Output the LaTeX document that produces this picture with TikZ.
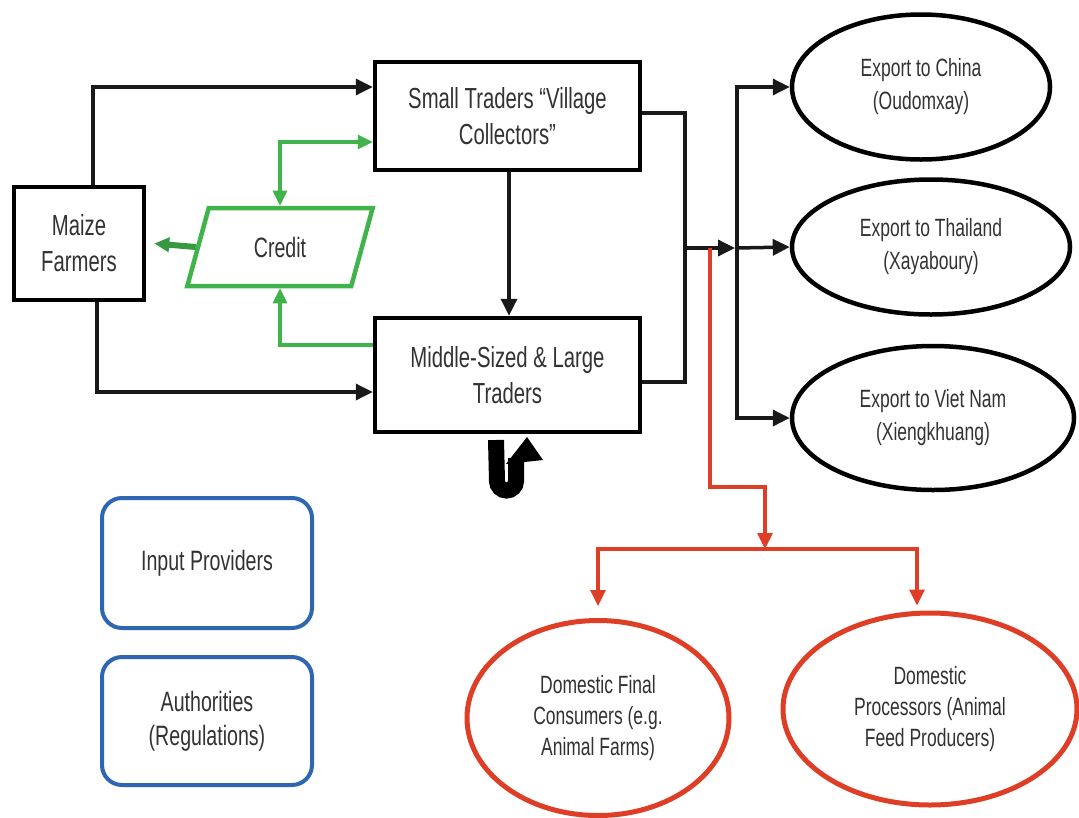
\documentclass[tikz,border=0pt]{standalone}
\usepackage{fontspec}
\setmainfont[FakeStretch=0.7]{Liberation Sans}
\usetikzlibrary{arrows.meta,shapes.geometric,calc}
\definecolor{txt}{RGB}{50,50,50}
\definecolor{grn}{RGB}{64,180,74}
\definecolor{redc}{RGB}{222,62,38}
\definecolor{blu}{RGB}{46,102,178}
\tikzset{
  box/.style={draw=black,line width=4.5pt,minimum width=#1,text=txt,align=center,font=\fontsize{29}{36}\selectfont,inner sep=2pt},
  oval/.style={ellipse,draw=black,line width=4.5pt,text=txt,align=center,font=\fontsize{25}{33}\selectfont,inner sep=0pt},
  redoval/.style={ellipse,draw=redc,line width=5pt,text=txt,align=center,font=\fontsize{25}{31}\selectfont,inner sep=0pt},
  bluebox/.style={draw=blu,line width=4pt,rounded corners=20pt,minimum width=210pt,text=txt,align=center,font=\fontsize{28}{34}\selectfont},
  arr/.style={line width=3.5pt,draw=black!90,-{Triangle[length=17pt,width=16pt]}},
  garr/.style={line width=3.2pt,draw=grn,-{Triangle[length=15pt,width=14pt]}},
  rarr/.style={line width=3.2pt,draw=redc,-{Triangle[length=16pt,width=15pt]}},
}
\begin{document}
\begin{tikzpicture}[x=1pt,y=-1pt]
\useasboundingbox[fill=white] (0,0) rectangle (1079,817);
% nodes
\node[box=130pt,minimum height=113pt] (farmers) at (79,243.5) {Maize\\Farmers};
\node[box=265pt,minimum height=108pt] (small) at (507.5,116) {Small Traders “Village\\Collectors”};
\node[box=265pt,minimum height=114pt] (middle) at (507.5,375) {Middle-Sized \& Large\\Traders};
\node[trapezium,trapezium left angle=72,trapezium right angle=108,trapezium stretches=true,
      draw=grn,line width=4.5pt,minimum width=186pt,minimum height=78pt,text=txt,
      font=\fontsize{28}{34}\selectfont] (credit) at (280,247) {Credit};
\node[oval,minimum width=258pt,minimum height=145pt] (china) at (921,87) {Export to China\\(Oudomxay)};
\node[oval,minimum width=278pt,minimum height=135pt] (thai) at (931,247) {Export to Thailand\\(Xayaboury)};
\node[oval,minimum width=282pt,minimum height=144pt] (viet) at (933,418) {Export to Viet Nam\\(Xiengkhuang)};
\node[redoval,minimum width=262pt,minimum height=195pt] (dfc) at (598,718) {Domestic Final\\Consumers (e.g.\\Animal Farms)};
\node[redoval,minimum width=294pt,minimum height=192pt] (dp) at (930,709) {Domestic\\Processors (Animal\\Feed Producers)};
\node[bluebox,minimum height=130pt] (input) at (207,563) {Input Providers};
\node[bluebox,minimum height=128pt] (auth) at (207,721) {Authorities\\(Regulations)};
% coordinates
\coordinate (J) at (685,248);
\coordinate (bus) at (737,248);
\coordinate (r0) at (710,248);
\coordinate (r1) at (765,549);
% black connectors
\draw[arr] ([xshift=14pt]farmers.north) |- ([yshift=29pt]small.west);
\draw[arr] ([xshift=18pt]farmers.south) |- ([yshift=-17pt]middle.west);
\draw[arr] ([xshift=1.5pt]small.south) -- ([xshift=1.5pt]middle.north);
\draw[line width=3.5pt,black!90] ([yshift=3pt]small.east) -| (J);
\draw[line width=3.5pt,black!90] ([yshift=-7pt]middle.east) -| (J);
\draw[arr,shorten >=2pt] (J) -- (bus);
\draw[arr] (bus) |- (china.west);
\draw[arr] (bus) -- (thai.west);
\draw[arr] (bus) |- (viet.west);
% green connectors
\draw[garr,line width=6pt,draw=grn!85!black] (credit.west) -- ([xshift=8pt]farmers.east);
\draw[garr,{Triangle[length=15pt,width=14pt]}-{Triangle[length=15pt,width=14pt]}] (credit.north) |- ([yshift=-26pt]small.west);
\draw[garr] ([yshift=30pt]middle.west) -| (credit.south);
% red connectors
\draw[rarr] (r0) -- (r0 |- 0,487) -| (r1);
\draw[rarr] (r1) -| ([yshift=12pt]dfc.north);
\draw[rarr] (r1) -| ($(dp.north)+(-13,-5)$);
% U-turn symbol below middle traders
\draw[line width=16pt,black] (496,440) -- (497,481) arc[start angle=180,end angle=360,radius=9.5pt] -- (516,458);
\fill[black] (506,464) -- (527,437) -- (543,460) -- cycle;
\end{tikzpicture}
\end{document}
